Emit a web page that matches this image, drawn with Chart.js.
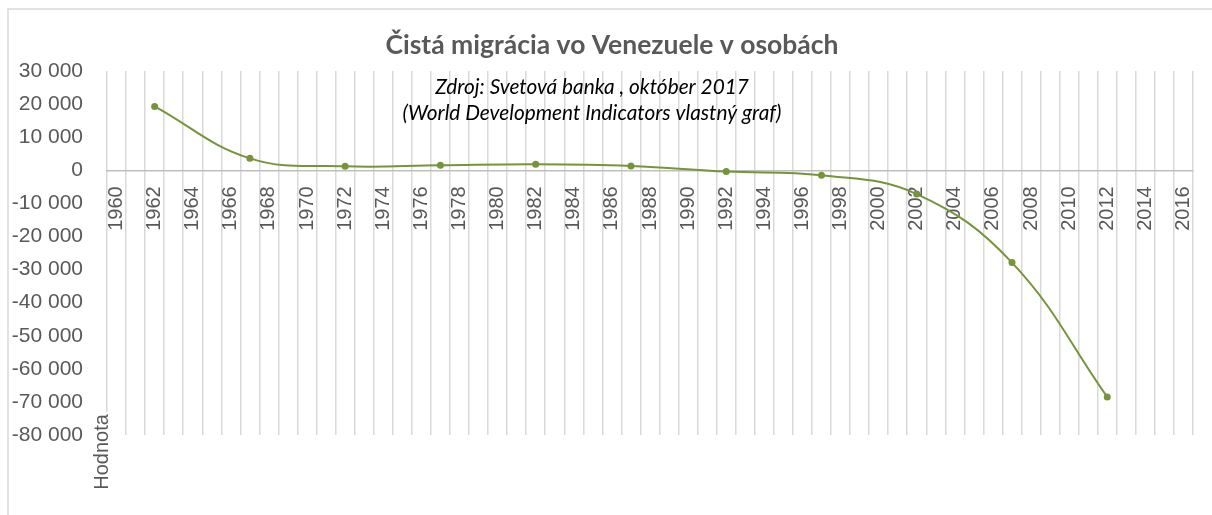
<!DOCTYPE html>
<html>
<head>
<meta charset="utf-8">
<script src="https://cdn.jsdelivr.net/npm/chart.js@4.4.0/dist/chart.umd.min.js"></script>
<style>
  body { margin: 0; background: #fff; }
  #wrap { width: 1212px; height: 515px; }
</style>
</head>
<body>
<div id="wrap"><canvas id="chart" width="1212" height="515"></canvas></div>
<script>
// category labels, one per year
const years = ['1960','1961','1962','1963','1964','1965','1966','1967','1968','1969',
    '1970','1971','1972','1973','1974','1975','1976','1977','1978','1979',
    '1980','1981','1982','1983','1984','1985','1986','1987','1988','1989',
    '1990','1991','1992','1993','1994','1995','1996','1997','1998','1999',
    '2000','2001','2002','2003','2004','2005','2006','2007','2008','2009',
    '2010','2011','2012','2013','2014','2015','2016']

// years that carry a value, and the values
const sampleYears = ['1962','1967','1972','1977','1982','1987','1992','1997','2002','2007','2012']
const netMigration = [19300, 3600, 1200, 1500, 1800, 1300, -400, -1500, -7200, -27900, -68500]

const yTicks = [30000, 20000, 10000, 0, -10000, -20000, -30000, -40000, -50000, -60000, -70000, -80000]

const title = 'Čistá migrácia vo Venezuele v osobách'
const sourceLines = ['Zdroj: Svetová banka , október 2017', '(World Development Indicators vlastný graf)']
const axisTitle = 'Hodnota'

const green = '#77933c'
const gray = '#595959'

let series = years.map(y => {
    let i = sampleYears.indexOf(y)
    return i >= 0 ? netMigration[i] : null
})

function fmt(v) {
    let s = String(Math.abs(v)).replace(/\B(?=(\d{3})+(?!\d))/g, ' ')
    return v < 0 ? '-' + s : s
}

const decorations = {
    id: 'decorations',
    afterDraw(chart) {
        const ctx = chart.ctx
        ctx.save()
        // outer frame
        ctx.strokeStyle = '#d9d9d9'
        ctx.lineWidth = 1.5
        ctx.strokeRect(8, 9, 1400, 700)

        // title
        ctx.fillStyle = gray
        ctx.font = 'bold 26.5px Lato'
        ctx.textAlign = 'center'
        ctx.textBaseline = 'middle'
        ctx.fillText(title, 612, 45)

        // source box
        ctx.fillStyle = '#000'
        ctx.font = 'italic 20.8px Lato'
        ctx.fillText(sourceLines[0], 592, 87)
        ctx.fillText(sourceLines[1], 592, 113)

        // axis title
        ctx.translate(102, 452)
        ctx.rotate(-Math.PI / 2)
        ctx.fillStyle = '#fff'
        ctx.fillRect(-40, -8, 80, 16)
        ctx.fillStyle = gray
        ctx.font = '20px "Liberation Sans"'
        ctx.fillText(axisTitle, 0, 0)
        ctx.restore()
    }
}

new Chart(document.getElementById('chart'), {
    type: 'line',
    data: {
        labels: years,
        datasets: [{
            data: series,
            borderColor: green,
            backgroundColor: green,
            borderWidth: 2,
            pointRadius: 3.5,
            pointHoverRadius: 3.5,
            pointBorderWidth: 0,
            tension: 0.4,
            spanGaps: true,
            clip: false
        }]
    },
    options: {
        responsive: false,
        animation: false,
        layout: {padding: {left: 0, top: 71, right: 19, bottom: 80}},
        plugins: {
            legend: {display: false},
            title: {display: false},
            tooltip: {enabled: false}
        },
        scales: {
            x: {
                type: 'category',
                offset: true,
                position: {y: 0},
                afterFit: scale => {
                    scale.paddingLeft = 0
                    scale.paddingRight = 0
                },
                grid: {
                    display: true,
                    offset: true,
                    color: '#d9d9d9',
                    lineWidth: 1.5,
                    drawTicks: false
                },
                border: {display: true, color: '#bfbfbf', width: 1.5},
                ticks: {
                    autoSkip: false,
                    minRotation: 90,
                    maxRotation: 90,
                    padding: 16,
                    color: gray,
                    font: {family: '"Liberation Sans"', size: 20},
                    callback: function(v, i) {
                        return i % 2 === 0 ? this.getLabelForValue(v) : ''
                    }
                }
            },
            y: {
                min: -80000,
                max: 30000,
                afterFit: scale => { scale.width = 107 },
                afterBuildTicks: scale => {
                    scale.ticks = yTicks.map(v => ({value: v}))
                },
                grid: {display: false, drawTicks: false},
                border: {display: false},
                ticks: {
                    padding: 24,
                    color: gray,
                    font: {family: '"Liberation Sans"', size: 21},
                    callback: v => fmt(v)
                }
            }
        }
    },
    plugins: [decorations]
})
</script>
</body>
</html>
